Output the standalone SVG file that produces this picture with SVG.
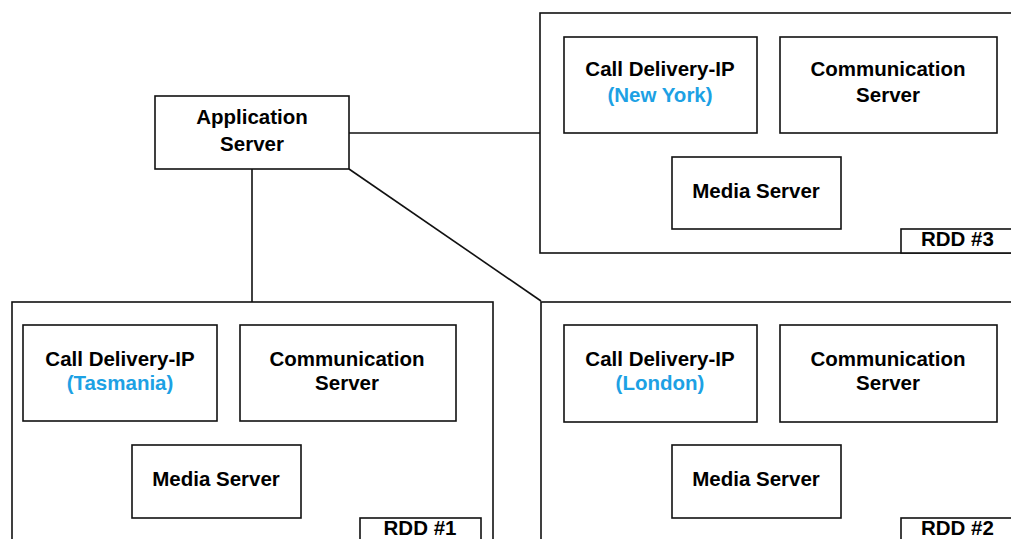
<svg xmlns="http://www.w3.org/2000/svg" width="1011" height="539" viewBox="0 0 1011 539">
<style>
.box{fill:#fff;stroke:#111;stroke-width:1.6}
.t{font-family:"Liberation Sans",Arial,sans-serif;font-weight:bold;font-size:20.5px;fill:#000;text-anchor:middle}
.b{fill:#1da1e4}
.l{text-anchor:start}
.c{stroke:#111;stroke-width:1.6;fill:none}
</style>
<rect width="1011" height="539" fill="#fff"/>
<g id="connectors">
<line class="c" x1="252" y1="169" x2="252" y2="302"/>
<line class="c" x1="349" y1="133" x2="540" y2="133"/>
<line class="c" x1="349" y1="169" x2="541" y2="301" stroke-width="1.2"/>
</g>
<g id="app-server">
<rect class="box" x="155" y="96" width="194" height="73"/>
<text class="t" x="252" y="124">Application</text>
<text class="t" x="252" y="151">Server</text>
</g>
<g id="rdd3">
<rect class="box" x="540" y="13" width="490" height="240"/>
<g id="rdd3-cd"><rect class="box" x="564" y="37" width="193" height="96"/>
<text class="t" x="660" y="76">Call Delivery-IP</text>
<text class="t b" x="660" y="102">(New York)</text></g>
<g id="rdd3-cs"><rect class="box" x="780" y="37" width="217" height="96"/>
<text class="t" x="888" y="76">Communication</text>
<text class="t" x="888" y="102">Server</text></g>
<g id="rdd3-ms"><rect class="box" x="672" y="157" width="169" height="72"/>
<text class="t" x="756" y="198">Media Server</text></g>
<g id="rdd3-label"><rect class="box" x="901" y="229" width="130" height="24"/>
<text class="t l" x="921" y="246">RDD #3</text></g>
</g>
<g id="rdd1">
<rect class="box" x="12" y="302" width="481" height="260"/>
<g id="rdd1-cd"><rect class="box" x="23" y="325" width="194" height="96"/>
<text class="t" x="120" y="366">Call Delivery-IP</text>
<text class="t b" x="120" y="390">(Tasmania)</text></g>
<g id="rdd1-cs"><rect class="box" x="240" y="325" width="216" height="96"/>
<text class="t" x="347" y="366">Communication</text>
<text class="t" x="347" y="390">Server</text></g>
<g id="rdd1-ms"><rect class="box" x="132" y="445" width="169" height="73"/>
<text class="t" x="216" y="486">Media Server</text></g>
<g id="rdd1-label"><rect class="box" x="360" y="518" width="121" height="40"/>
<text class="t" x="420" y="535">RDD #1</text></g>
</g>
<g id="rdd2">
<rect class="box" x="541" y="302" width="490" height="260"/>
<g id="rdd2-cd"><rect class="box" x="564" y="325" width="193" height="97"/>
<text class="t" x="660" y="366">Call Delivery-IP</text>
<text class="t b" x="660" y="390">(London)</text></g>
<g id="rdd2-cs"><rect class="box" x="780" y="325" width="217" height="97"/>
<text class="t" x="888" y="366">Communication</text>
<text class="t" x="888" y="390">Server</text></g>
<g id="rdd2-ms"><rect class="box" x="672" y="445" width="169" height="73"/>
<text class="t" x="756" y="486">Media Server</text></g>
<g id="rdd2-label"><rect class="box" x="901" y="518" width="130" height="40"/>
<text class="t l" x="921" y="535">RDD #2</text></g>
</g>
</svg>
